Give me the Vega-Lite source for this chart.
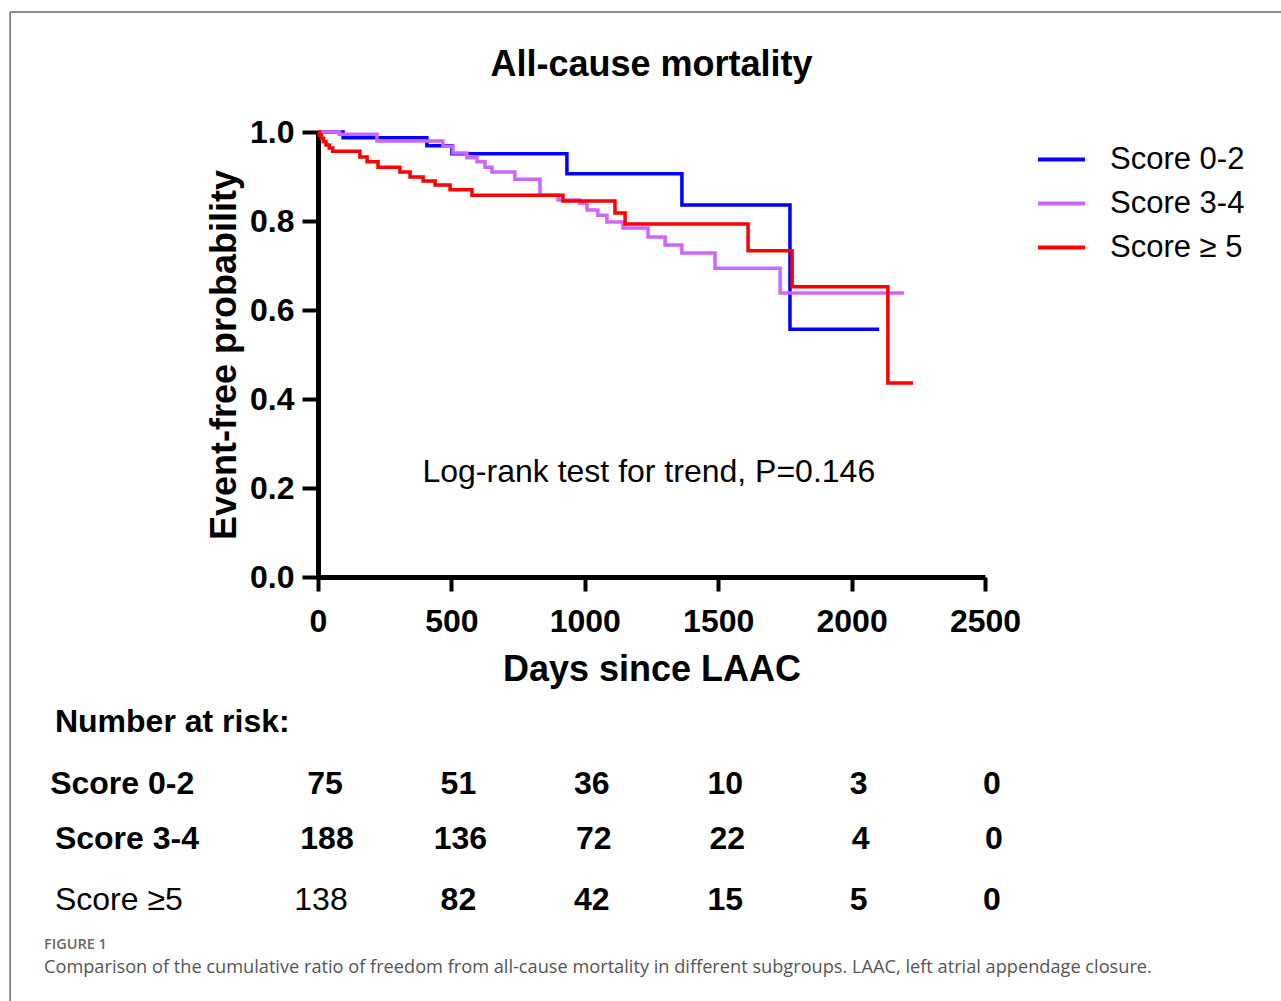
{
  "$schema": "https://vega.github.io/schema/vega-lite/v6.json",
  "width": 667,
  "height": 445,
  "autosize": {"type": "none"},
  "padding": {"left": 318, "top": 132, "right": 296, "bottom": 424},
  "background": "white",
  "config": {"font": "Liberation Sans", "view": {"stroke": null}},
  "title": {"text": "All-cause mortality", "fontSize": 36, "fontWeight": "bold", "font": "Liberation Sans", "anchor": "middle", "frame": "group", "offset": -73, "color": "black"},
  "datasets": {
    "km": [
      {"group": "Score 0-2", "time": 0, "surv": 1},
      {"group": "Score 0-2", "time": 94, "surv": 0.987},
      {"group": "Score 0-2", "time": 408, "surv": 0.969},
      {"group": "Score 0-2", "time": 502, "surv": 0.951},
      {"group": "Score 0-2", "time": 933, "surv": 0.906},
      {"group": "Score 0-2", "time": 1364, "surv": 0.836},
      {"group": "Score 0-2", "time": 1769, "surv": 0.557},
      {"group": "Score 0-2", "time": 2103, "surv": 0.557},
      {"group": "Score 3-4", "time": 0, "surv": 1},
      {"group": "Score 3-4", "time": 80, "surv": 0.995},
      {"group": "Score 3-4", "time": 221, "surv": 0.98},
      {"group": "Score 3-4", "time": 468, "surv": 0.968},
      {"group": "Score 3-4", "time": 506, "surv": 0.953},
      {"group": "Score 3-4", "time": 558, "surv": 0.942},
      {"group": "Score 3-4", "time": 596, "surv": 0.933},
      {"group": "Score 3-4", "time": 626, "surv": 0.921},
      {"group": "Score 3-4", "time": 652, "surv": 0.91},
      {"group": "Score 3-4", "time": 738, "surv": 0.894},
      {"group": "Score 3-4", "time": 832, "surv": 0.858},
      {"group": "Score 3-4", "time": 900, "surv": 0.847},
      {"group": "Score 3-4", "time": 982, "surv": 0.84},
      {"group": "Score 3-4", "time": 1008, "surv": 0.825},
      {"group": "Score 3-4", "time": 1049, "surv": 0.813},
      {"group": "Score 3-4", "time": 1083, "surv": 0.798},
      {"group": "Score 3-4", "time": 1143, "surv": 0.784},
      {"group": "Score 3-4", "time": 1237, "surv": 0.764},
      {"group": "Score 3-4", "time": 1301, "surv": 0.746},
      {"group": "Score 3-4", "time": 1364, "surv": 0.728},
      {"group": "Score 3-4", "time": 1488, "surv": 0.694},
      {"group": "Score 3-4", "time": 1732, "surv": 0.638},
      {"group": "Score 3-4", "time": 2196, "surv": 0.638},
      {"group": "Score ≥ 5", "time": 0, "surv": 1},
      {"group": "Score ≥ 5", "time": 5, "surv": 0.993},
      {"group": "Score ≥ 5", "time": 12, "surv": 0.986},
      {"group": "Score ≥ 5", "time": 20, "surv": 0.978},
      {"group": "Score ≥ 5", "time": 30, "surv": 0.971},
      {"group": "Score ≥ 5", "time": 42, "surv": 0.964},
      {"group": "Score ≥ 5", "time": 55, "surv": 0.957},
      {"group": "Score ≥ 5", "time": 157, "surv": 0.944},
      {"group": "Score ≥ 5", "time": 184, "surv": 0.933},
      {"group": "Score ≥ 5", "time": 225, "surv": 0.921},
      {"group": "Score ≥ 5", "time": 307, "surv": 0.91},
      {"group": "Score ≥ 5", "time": 345, "surv": 0.899},
      {"group": "Score ≥ 5", "time": 394, "surv": 0.89},
      {"group": "Score ≥ 5", "time": 439, "surv": 0.881},
      {"group": "Score ≥ 5", "time": 495, "surv": 0.87},
      {"group": "Score ≥ 5", "time": 577, "surv": 0.858},
      {"group": "Score ≥ 5", "time": 918, "surv": 0.845},
      {"group": "Score ≥ 5", "time": 1113, "surv": 0.818},
      {"group": "Score ≥ 5", "time": 1151, "surv": 0.793},
      {"group": "Score ≥ 5", "time": 1612, "surv": 0.733},
      {"group": "Score ≥ 5", "time": 1777, "surv": 0.652},
      {"group": "Score ≥ 5", "time": 2136, "surv": 0.436},
      {"group": "Score ≥ 5", "time": 2230, "surv": 0.436}
    ],
    "risk": [
      {"group": "Score 0-2", "time": 0, "n": 75},
      {"group": "Score 0-2", "time": 500, "n": 51},
      {"group": "Score 0-2", "time": 1000, "n": 36},
      {"group": "Score 0-2", "time": 1500, "n": 10},
      {"group": "Score 0-2", "time": 2000, "n": 3},
      {"group": "Score 0-2", "time": 2500, "n": 0},
      {"group": "Score 3-4", "time": 0, "n": 188},
      {"group": "Score 3-4", "time": 500, "n": 136},
      {"group": "Score 3-4", "time": 1000, "n": 72},
      {"group": "Score 3-4", "time": 1500, "n": 22},
      {"group": "Score 3-4", "time": 2000, "n": 4},
      {"group": "Score 3-4", "time": 2500, "n": 0},
      {"group": "Score ≥5", "time": 0, "n": 138},
      {"group": "Score ≥5", "time": 500, "n": 82},
      {"group": "Score ≥5", "time": 1000, "n": 42},
      {"group": "Score ≥5", "time": 1500, "n": 15},
      {"group": "Score ≥5", "time": 2000, "n": 5},
      {"group": "Score ≥5", "time": 2500, "n": 0}
    ]
  },
  "layer": [
    {
      "data": {"name": "km"},
      "mark": {"type": "line", "interpolate": "step-after", "strokeWidth": 3.5, "clip": false},
      "encoding": {
        "x": {"field": "time", "type": "quantitative", "scale": {"domain": [0, 2500], "nice": false, "zero": false},
          "axis": {"title": "Days since LAAC", "values": [0, 500, 1000, 1500, 2000, 2500], "format": "d", "grid": false,
            "labelFontSize": 32, "labelFontWeight": "bold", "labelColor": "black", "labelPadding": 15, "labelFlush": false,
            "titleFontSize": 36, "titleFontWeight": "bold", "titleColor": "black", "titlePadding": 15,
            "domainColor": "black", "domainWidth": 5, "tickColor": "black", "tickWidth": 4, "tickSize": 14}},
        "y": {"field": "surv", "type": "quantitative", "scale": {"domain": [0, 1], "nice": false, "zero": false},
          "axis": {"title": "Event-free probability", "values": [0, 0.2, 0.4, 0.6, 0.8, 1], "format": ".1f", "grid": false,
            "labelFontSize": 32, "labelFontWeight": "bold", "labelColor": "black", "labelPadding": 8, "labelFlush": false,
            "titleFontSize": 36, "titleFontWeight": "bold", "titleColor": "black", "titlePadding": 6,
            "domainColor": "black", "domainWidth": 5, "tickColor": "black", "tickWidth": 4, "tickSize": 16}},
        "color": {"field": "group", "type": "nominal",
          "scale": {"domain": ["Score 0-2", "Score 3-4", "Score ≥ 5"], "range": ["#0000ff", "#cc66ff", "#ff0000"]},
          "legend": {"title": null, "orient": "none", "legendX": 718, "legendY": 2, "padding": 0,
            "symbolType": "stroke", "symbolSize": 2209, "symbolStrokeWidth": 4, "labelOffset": 23,
            "labelFontSize": 31, "labelColor": "black", "rowPadding": 3, "labelFont": "Liberation Sans"}}
      }
    },
    {
      "data": {"values": [{}]},
      "mark": {"type": "text", "text": "Log-rank test for trend, P=0.146", "fontSize": 32, "align": "center", "baseline": "middle", "color": "black"},
      "encoding": {"x": {"datum": 1240}, "y": {"datum": 0.236}}
    },
    {
      "data": {"values": [{}]},
      "mark": {"type": "text", "text": "Number at risk:", "fontSize": 32, "fontWeight": "bold", "align": "left", "baseline": "middle", "color": "black"},
      "encoding": {"x": {"datum": -986}, "y": {"datum": -0.326}}
    },
    {
      "data": {"name": "risk"},
      "transform": [{"filter": "datum.group === 'Score 0-2'"}],
      "encoding": {"y": {"datum": -0.465}},
      "layer": [
        {"mark": {"type": "text", "fontSize": 32, "fontWeight": "bold", "align": "center", "baseline": "middle", "dx": 7, "color": "black"},
          "encoding": {"x": {"field": "time", "type": "quantitative"}, "text": {"field": "n", "type": "quantitative"}}},
        {"transform": [{"filter": "datum.time === 0"}],
          "mark": {"type": "text", "fontSize": 32, "fontWeight": "bold", "align": "left", "baseline": "middle", "color": "black"},
          "encoding": {"x": {"datum": -1004}, "text": {"field": "group"}}}
      ]
    },
    {
      "data": {"name": "risk"},
      "transform": [{"filter": "datum.group === 'Score 3-4'"}],
      "encoding": {"y": {"datum": -0.589}},
      "layer": [
        {"mark": {"type": "text", "fontSize": 32, "fontWeight": "bold", "align": "center", "baseline": "middle", "dx": 9, "color": "black"},
          "encoding": {"x": {"field": "time", "type": "quantitative"}, "text": {"field": "n", "type": "quantitative"}}},
        {"transform": [{"filter": "datum.time === 0"}],
          "mark": {"type": "text", "fontSize": 32, "fontWeight": "bold", "align": "left", "baseline": "middle", "color": "black"},
          "encoding": {"x": {"datum": -986}, "text": {"field": "group"}}}
      ]
    },
    {
      "data": {"name": "risk"},
      "transform": [{"filter": "datum.group === 'Score ≥5'"}],
      "encoding": {"y": {"datum": -0.726}},
      "layer": [
        {"transform": [{"filter": "datum.time > 0"}],
          "mark": {"type": "text", "fontSize": 32, "fontWeight": "bold", "align": "center", "baseline": "middle", "dx": 7, "color": "black"},
          "encoding": {"x": {"field": "time", "type": "quantitative"}, "text": {"field": "n", "type": "quantitative"}}},
        {"transform": [{"filter": "datum.time === 0"}],
          "mark": {"type": "text", "fontSize": 32, "fontWeight": "normal", "align": "center", "baseline": "middle", "dx": 3, "color": "black"},
          "encoding": {"x": {"field": "time", "type": "quantitative"}, "text": {"field": "n", "type": "quantitative"}}},
        {"transform": [{"filter": "datum.time === 0"}],
          "mark": {"type": "text", "fontSize": 32, "fontWeight": "normal", "align": "left", "baseline": "middle", "color": "black"},
          "encoding": {"x": {"datum": -986}, "text": {"field": "group"}}}
      ]
    },
    {
      "data": {"values": [{}]},
      "mark": {"type": "text", "text": "FIGURE 1", "font": "Open Sans", "fontSize": 14.5, "fontWeight": 600, "align": "left", "baseline": "middle", "color": "#666666"},
      "encoding": {"x": {"datum": -1027}, "y": {"datum": -0.827}}
    },
    {
      "data": {"values": [{}]},
      "mark": {"type": "text", "text": "Comparison of the cumulative ratio of freedom from all-cause mortality in different subgroups. LAAC, left atrial appendage closure.", "font": "Open Sans", "fontSize": 18.2, "align": "left", "baseline": "middle", "color": "#555555"},
      "encoding": {"x": {"datum": -1027}, "y": {"datum": -0.879}}
    },
    {
      "data": {"values": [{}]},
      "mark": {"type": "rule", "color": "#666666", "strokeWidth": 1.5},
      "encoding": {"x": {"datum": -1154}, "x2": {"datum": 3700}, "y": {"datum": 1.2697}}
    },
    {
      "data": {"values": [{}]},
      "mark": {"type": "rule", "color": "#666666", "strokeWidth": 1.5},
      "encoding": {"x": {"datum": -1154}, "y": {"datum": 1.2697}, "y2": {"datum": -1.0}}
    }
  ]
}
